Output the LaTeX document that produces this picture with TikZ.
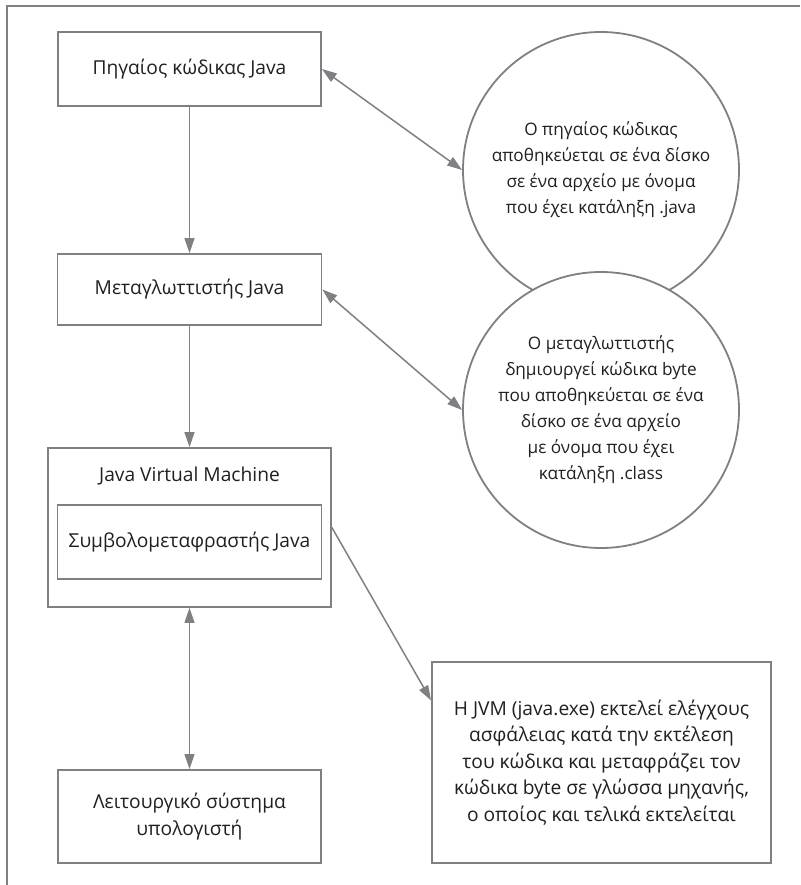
\documentclass[tikz,border=0pt]{standalone}
\usepackage{fontspec}
\setmainfont{Open Sans}
\usetikzlibrary{
    arrows.meta,
    shapes,
    positioning
}
\definecolor{linegray}{HTML}{808084}
\definecolor{inkblack}{HTML}{231F20}
\tikzset{
    block/.style={draw=linegray, line width=1.8pt, fill=white, text=inkblack, align=center, inner sep=0pt},
    bubble/.style={circle, draw=linegray, line width=1.8pt, fill=white, text=inkblack, align=center, minimum size=276pt, inner sep=0pt, font=\fontsize{17.2}{26}\selectfont}
}

\begin{document}
\begin{tikzpicture}[x=1pt, y=-1pt, >={Triangle[length=15pt,width=10pt]}, font=\fontsize{19.2}{26.5}\selectfont]
                        \useasboundingbox (0,0) rectangle (800,885);
                        \draw[linegray, line width=1.8pt] (800,6) -- (7,6) -- (7,885);
                        \node[block, minimum width=263pt, minimum height=74pt] (src) at (189.5,69) {Πηγαίος κώδικας Java};
                        \node[block, minimum width=264pt, minimum height=71pt] (comp) at (189.5,289.5) {Μεταγλωττιστής Java};
                        \node[block, minimum width=283pt, minimum height=159pt] (jvm) at (189.5,527.5) {};
                        \node[text=inkblack] (jvmtitle) at (189.5,476) {Java Virtual Machine};
                        \node[block, minimum width=264pt, minimum height=74pt] (interp) at (189.5,542) {Συμβολομεταφραστής Java};
                        \node[block, minimum width=263pt, minimum height=93pt] (os) at (189.5,816.5) {Λειτουργικό σύστημα\\υπολογιστή};
                        \node[bubble] (c1) at (601,170) {Ο πηγαίος κώδικας\\αποθηκεύεται σε ένα δίσκο\\σε ένα αρχείο με όνομα\\που έχει κατάληξη .java};
                        \node[bubble] (c2) at (601,410) {Ο μεταγλωττιστής\\δημιουργεί κώδικα byte\\που αποθηκεύεται σε ένα\\δίσκο σε ένα αρχείο\\με όνομα που έχει\\κατάληξη .class};
                        \node[block, minimum width=339pt, minimum height=201pt] (note) at (601.5,762.5) {Η JVM (java.exe) εκτελεί ελέγχους\\ασφάλειας κατά την εκτέλεση\\του κώδικα και μεταφράζει τον\\κώδικα byte σε γλώσσα μηχανής,\\ο οποίος και τελικά εκτελείται};
                        \draw[linegray, line width=1.5pt]
                        (src) edge[->] (comp)
                        (comp) edge[->] (jvm)
                        (jvm) edge[<->] (os)
                        (src.east) edge[<->] (c1.west)
                        (comp.east) edge[<->] (c2.west)
                        (jvm.east) edge[->] (note.160);
                    \end{tikzpicture}
\end{document}
